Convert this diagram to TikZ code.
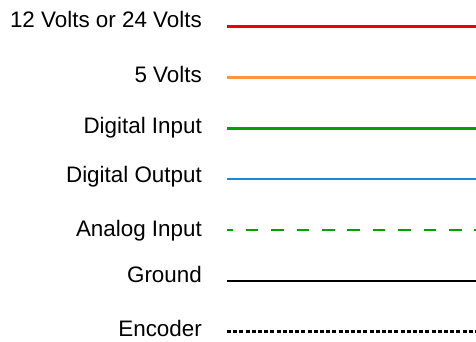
\documentclass[tikz,border=0pt]{standalone}
\usepackage{fontspec}
\setmainfont{Liberation Sans}
\definecolor{cred}{RGB}{238,0,0}
\definecolor{corange}{RGB}{247,150,70}
\definecolor{cgreen}{RGB}{0,160,0}
\definecolor{cblue}{RGB}{30,136,216}
\begin{document}
\begin{tikzpicture}[x=1pt,y=-1pt,
  lbl/.style={anchor=base east,inner sep=0pt,font=\fontsize{22.4}{26}\selectfont},
  wire/.style={line width=2.6pt}]
\useasboundingbox (0,0) rectangle (476,341);
\node[lbl] (l1) at (202,27.3) {12 Volts or 24 Volts};
\node[lbl] (l2) at (202,82.7) {5 Volts};
\node[lbl] (l3) at (202,133.3) {Digital Input};
\node[lbl] (l4) at (202,182.7) {Digital Output};
\node[lbl] (l5) at (202,236) {Analog Input};
\node[lbl] (l6) at (202,282.7) {Ground};
\node[lbl] (l7) at (202,336) {Encoder};
\foreach \i/\y in {1/26.7,2/77.7,3/128.3,4/179,5/230,6/281,7/331.7}{
  \coordinate (s\i) at (227,\y);
  \coordinate (e\i) at (476,\y);
}
\draw[wire,cred] (s1) -- (e1);
\draw[wire,corange] (s2) -- (e2);
\draw[wire,cgreen] (s3) -- (e3);
\draw[wire,cblue] (s4) -- (e4);
\draw[wire,cgreen,dash pattern=on 12.7pt off 12.7pt,dash phase=6.7pt] (s5) -- (e5);
\draw[wire,black,line width=2.9pt] (s6) -- (e6);
\draw[wire,black,line width=2.9pt,dash pattern=on 4pt off 2.2pt] (s7) -- (e7);
\end{tikzpicture}
\end{document}
